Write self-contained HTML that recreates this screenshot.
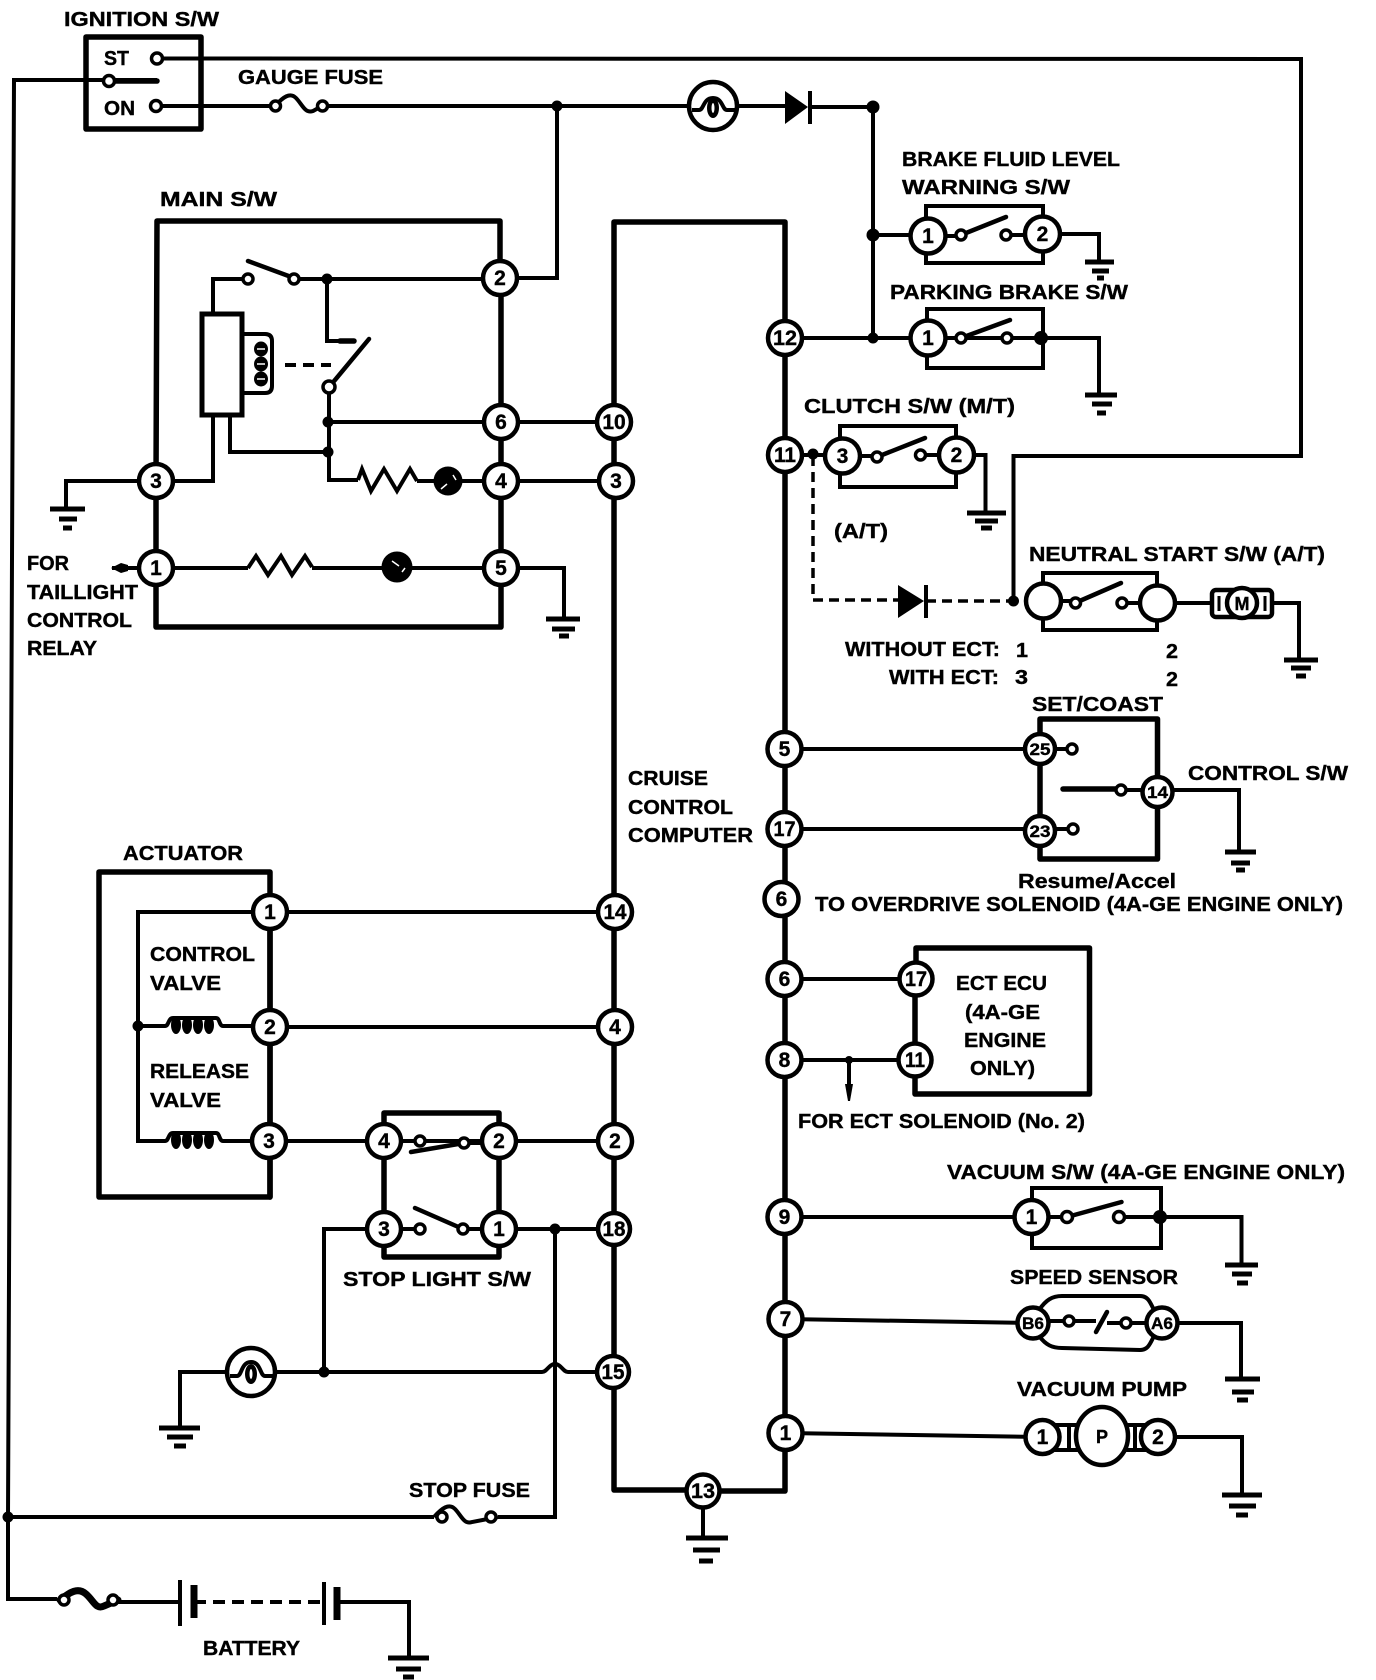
<!DOCTYPE html>
<html lang="en"><head><meta charset="utf-8"><title>Cruise control wiring diagram</title>
<style>
html,body{margin:0;padding:0;background:#fff}
svg{display:block}
text{font-family:"Liberation Sans",sans-serif;font-weight:700;fill:#000;stroke:#000;stroke-width:.4}
.t{font-size:20px}
.n{font-size:21px;text-anchor:middle}
.s{font-size:17px;text-anchor:middle}
.w{fill:none;stroke:#000;stroke-width:4;stroke-linejoin:miter}
.b{fill:none;stroke:#000;stroke-width:5.5;stroke-linejoin:round;stroke-linecap:round}
.g{fill:none;stroke:#000;stroke-width:5}
.c{fill:#fff;stroke:#000;stroke-width:4.5}
.p{fill:#fff;stroke:#000;stroke-width:3.5}
.k{fill:#000;stroke:none}
.sw{fill:none;stroke:#000;stroke-width:4.5;stroke-linecap:round}
</style></head><body>
<svg width="1376" height="1680" viewBox="0 0 1376 1680" xmlns="http://www.w3.org/2000/svg">
<rect width="1376" height="1680" fill="#fff"/>

<!-- thick boxes -->
<path class="b" d="M86 37H201V129H86Z"/>
<path class="b" d="M156 481L157 221H500V278M501 278V568M156 481V627H501V568"/>
<path class="b" d="M614 1490V222H785V1491H703M614 1490H703"/>
<path class="b" d="M99 872H270V1197H99Z"/>
<path class="w" d="M270 912H138V1141H165M138 1026H165"/>
<path class="b" d="M270 912V1197"/>
<path class="b" d="M384 1141V1113H499V1141M384 1141V1229M499 1141V1229M384 1229V1257H499V1229"/>
<path class="b" d="M1040 749V719H1157.5V859H1040V749"/>
<path class="b" d="M916 979V948H1089.5V1094H915V979"/>

<!-- wires -->
<path class="w" d="M157 58.5L1301 59V456H1013.5V601"/>
<path class="w" d="M157 80H14L8 1517V1599H57"/>
<path class="w" d="M157 106H275M322 106H690M736 106H785M810 107H873V338M557 106V278H500"/>
<path class="b" d="M109 81H157"/>
<path class="w" d="M248 279H213V314M294 279H500M327 279V341H352"/>
<path class="b" d="M340 341H354"/>
<path class="w" d="M329 387V480H358M329 422H614M329 452H230V415M213 415V481H156M417 481H616"/>
<path class="w" d="M156 481H66V509M156 568H248M312 568H501H564V619M112 568H156"/>
<path class="w" d="M242 334H265Q272 334 272 341V386Q272 393 265 393H242"/>
<path class="w" d="M785 338H1041M785 455H842"/>
<path class="w" d="M873 235H928M1042 234H1099V262"/>
<path class="w" d="M1007 338H1099V395"/>
<path class="w" d="M956 455H985.5V513"/>
<path class="w" d="M1175 603H1212M1272 603H1299V660"/>
<path class="w" d="M785 749H1040M785 829H1040"/>
<path class="w" d="M1157 790H1239V852"/>
<path class="w" d="M785 979H916M785 1060H915M849 1060V1092"/>
<path class="w" d="M785 1217H1031M1119 1217H1160H1241.5V1265"/>
<path class="w" d="M785 1319L1033 1323M1162 1323H1241V1379"/>
<path class="w" d="M785 1433L1042 1437M1158 1437H1242V1495"/>
<path class="w" d="M703 1491V1538"/>
<path class="w" d="M270 912H615M270 1027H615M269 1141H615M499 1229H614"/>
<path class="w" d="M384 1229H324V1372M180 1428V1372H227M275 1372H542C547 1372 549 1364 555 1364S563 1372 568 1372H613"/>
<path class="w" d="M555 1229V1517H498M434 1517H8"/>
<path class="w" d="M118 1602H180M337 1602H409V1658"/>
<path class="w" stroke-dasharray="12 7" d="M194 1602H322"/>
<path class="w" style="stroke-width:3.5" stroke-dasharray="10 6" d="M813 456V600H898M926 601H1013"/>
<path class="w" stroke-dasharray="11 7" d="M285 365H331"/>

<!-- fuses -->
<path class="w" d="M275 106C283 97 290 92 296 98S305 114 313 111L322 106"/>
<circle class="p" cx="275.5" cy="106" r="5"/><circle class="p" cx="322.5" cy="106" r="5"/>
<path class="w" d="M434 1517C442 1508 449 1503 455 1509S464 1525 472 1522L498 1517"/>
<circle class="p" cx="442" cy="1517" r="5"/><circle class="p" cx="491" cy="1517" r="5"/>
<path class="b" style="stroke-width:7" d="M60 1600C70 1592 78 1587 86 1594S96 1610 104 1606L118 1600"/>
<circle class="p" cx="64" cy="1600" r="5"/><circle class="p" cx="113" cy="1600" r="5"/>

<!-- gauges -->
<circle class="c" cx="713" cy="106" r="24"/>
<path class="w" d="M692 110H699C704 110 703 98 713 98S722 110 727 110H735"/>
<ellipse class="k" cx="713" cy="108" rx="6" ry="10"/><ellipse cx="713" cy="108" rx="1.5" ry="5" fill="#fff"/>
<circle class="c" cx="251" cy="1372" r="24"/>
<path class="w" d="M230 1376H237C242 1376 241 1362 251 1362S260 1376 265 1376H273"/>
<ellipse class="k" cx="251" cy="1374" rx="6" ry="10"/><ellipse cx="251" cy="1374" rx="1.5" ry="5" fill="#fff"/>

<!-- diodes -->
<polygon class="k" points="785,91 808,107 785,124"/><path class="w" d="M810 91V124"/>
<polygon class="k" points="898,585 924,601 898,618"/><path class="w" d="M926 585V618"/>

<!-- relay coil and main switch -->
<rect x="202" y="314" width="40" height="101" fill="#fff" stroke="#000" stroke-width="5"/>
<ellipse class="k" cx="261" cy="349" rx="7" ry="7.5"/><ellipse class="k" cx="261" cy="364" rx="7" ry="7.5"/><ellipse class="k" cx="261" cy="379" rx="7" ry="7.5"/>
<path d="M257 349H265M257 364H265M257 379H265" stroke="#fff" stroke-width="1.5"/>
<path class="sw" d="M248 261L294 278M369 339L330 386"/>
<circle class="p" cx="248" cy="279" r="5"/><circle class="p" cx="294" cy="279" r="5"/><circle class="p" cx="329" cy="387" r="6"/>

<!-- resistors and lamps -->
<polyline class="w" points="358,480 362,469 371,491 384,469 397,491 410,469 417,481"/>
<polyline class="w" points="248,568 256,556 268,575 281,556 292,575 305,556 312,567"/>
<circle class="k" cx="448" cy="481" r="14.5"/><circle class="k" cx="397" cy="567" r="15.5"/>
<path d="M441 489L447 484M453 475L456 480M392 561L399 566M402 572L405 568" stroke="#fff" stroke-width="1.5"/>

<!-- actuator coils -->
<path class="w" d="M165 1026C169 1026 168 1018 173 1018H216C220 1018 219 1026 223 1026H252"/>
<ellipse class="k" cx="176" cy="1025" rx="5" ry="9"/><ellipse class="k" cx="187" cy="1025" rx="5" ry="9"/><ellipse class="k" cx="198" cy="1025" rx="5" ry="9"/><ellipse class="k" cx="209" cy="1025" rx="5" ry="9"/>
<path class="w" d="M165 1141C169 1141 168 1133 173 1133H216C220 1133 219 1141 223 1141H252"/>
<ellipse class="k" cx="176" cy="1140" rx="5" ry="9"/><ellipse class="k" cx="187" cy="1140" rx="5" ry="9"/><ellipse class="k" cx="198" cy="1140" rx="5" ry="9"/><ellipse class="k" cx="209" cy="1140" rx="5" ry="9"/>

<!-- stop light switch -->
<path class="sw" d="M411 1152L464 1143M415 1208L463 1229"/>
<path class="w" d="M384 1141H420M464 1143H499M384 1229H420M463 1229H499"/>
<circle class="p" cx="420" cy="1141" r="5"/><circle class="p" cx="464" cy="1143" r="5"/><circle class="p" cx="420" cy="1229" r="5"/><circle class="p" cx="463" cy="1229" r="5"/>

<!-- brake fluid switch -->
<path class="w" d="M926 206H1043V263H926Z"/>
<path class="w" d="M928 236H961M1006 235H1042"/>
<path class="sw" d="M961 235L1006 217"/>
<circle class="p" cx="961" cy="235" r="5"/><circle class="p" cx="1006" cy="235" r="5"/>

<!-- parking switch -->
<path class="w" d="M927 309H1043V368H927Z"/>
<path class="w" d="M928 338H961"/>
<path class="sw" d="M961 338L1010 320"/>
<circle class="p" cx="961" cy="338" r="5"/><circle class="p" cx="1007" cy="338" r="5"/>

<!-- clutch switch -->
<path class="w" d="M840 426H956V487H840Z"/>
<path class="w" d="M842 456H877M920 455H956"/>
<path class="sw" d="M877 457L925 438"/>
<circle class="p" cx="877" cy="457" r="5"/><circle class="p" cx="920.5" cy="455" r="5"/>

<!-- neutral start switch -->
<path class="w" d="M1043 573H1157V630H1043Z"/>
<path class="w" d="M1043 601H1075M1122 603H1157"/>
<path class="sw" d="M1075 603L1121 583"/>
<circle class="p" cx="1075.5" cy="603" r="5"/><circle class="p" cx="1122" cy="603" r="5"/>
<circle class="c" cx="1043.5" cy="601" r="17.5"/><circle class="c" cx="1157.5" cy="603" r="17.5"/>

<!-- motor -->
<rect x="1212" y="590" width="60" height="27" rx="4" fill="#fff" stroke="#000" stroke-width="4.5"/>
<path class="w" style="stroke-width:3" d="M1219 596V611M1265 596V611"/>
<circle class="c" cx="1242" cy="603" r="15"/>

<!-- control switch -->
<path class="w" d="M1040 749H1072M1040 829H1073M1121 790H1157"/>
<path class="b" d="M1063 789H1121"/>
<circle class="p" cx="1072" cy="749" r="5"/><circle class="p" cx="1073" cy="829" r="5"/><circle class="p" cx="1121" cy="790" r="5"/>

<!-- vacuum switch -->
<path class="w" d="M1032 1188H1161V1248H1032Z"/>
<path class="w" d="M1031 1217H1067"/>
<path class="sw" d="M1067 1217L1121.5 1202"/>
<circle class="p" cx="1067" cy="1217" r="5.5"/><circle class="p" cx="1119" cy="1217" r="5.5"/>

<!-- speed sensor -->
<path class="w" d="M1039 1310C1046 1300 1052 1296 1062 1296H1140C1148 1296 1150 1302 1154 1310M1039 1336C1046 1345 1052 1348 1062 1348L1140 1350C1148 1350 1150 1344 1154 1336"/>
<path class="w" d="M1033 1321H1096M1107 1323H1162"/>
<path class="sw" d="M1096 1332L1107 1312"/>
<circle class="p" cx="1069" cy="1321" r="5"/><circle class="p" cx="1126" cy="1323" r="5"/>

<!-- vacuum pump -->
<rect x="1042" y="1425" width="116" height="25" fill="#fff" stroke="#000" stroke-width="4"/>
<path class="w" d="M1069 1425V1450M1135 1425V1450"/>
<ellipse class="c" cx="1102" cy="1436" rx="26" ry="29"/>

<!-- battery -->
<path class="w" d="M180 1580V1626M324 1582V1625"/>
<path class="g" style="stroke-width:7" d="M194 1585V1618M337 1587V1620"/>

<!-- grounds -->
<path class="g" d="M50 509H85M59 519H77M63 528H72"/>
<path class="g" d="M546 619H580M552 629H575M559 636H569"/>
<path class="g" d="M1085 262H1114M1092 271H1109M1097 278H1104"/>
<path class="g" d="M1085 395H1117M1092 404H1112M1097 413H1106"/>
<path class="g" d="M967 513H1006M975 521H998M981 528H992"/>
<path class="g" d="M1284 660H1318M1291 668H1311M1296 676H1306"/>
<path class="g" d="M1225 852H1256M1231 863H1250M1236 870H1245"/>
<path class="g" d="M1225 1265H1258M1232 1274H1252M1237 1283H1248"/>
<path class="g" d="M1225 1379H1260M1232 1392H1254M1237 1400H1248"/>
<path class="g" d="M1222 1495H1262M1229 1506H1256M1236 1515H1248"/>
<path class="g" d="M686 1538H728M693 1550H720M699 1561H713"/>
<path class="g" d="M159 1428H200M167 1437H193M174 1446H186"/>
<path class="g" d="M388 1658H429M396 1669H421M403 1677H414"/>

<!-- arrowheads -->
<polygon class="k" points="111,568 121,563 128,565 128,571 121,573"/>
<polygon class="k" points="845,1084 853,1084 850,1101 848,1101"/>

<!-- junction dots -->
<g class="k">
<circle cx="557" cy="106" r="5.5"/><circle cx="873" cy="107" r="6.5"/><circle cx="873" cy="235" r="6.5"/><circle cx="873" cy="338" r="5.5"/>
<circle cx="327" cy="279" r="5.5"/><circle cx="328" cy="422" r="5.5"/><circle cx="328" cy="452" r="5.5"/>
<circle cx="1041" cy="338" r="7"/><circle cx="813" cy="454" r="5.5"/><circle cx="1013.5" cy="601" r="5.5"/>
<circle cx="1160" cy="1217" r="7"/><circle cx="138" cy="1026" r="5.5"/><circle cx="324" cy="1372" r="5.5"/>
<circle cx="555" cy="1229" r="5.5"/><circle cx="8" cy="1517" r="5.5"/><circle cx="849" cy="1060" r="4"/>
</g>
<circle class="p" cx="157" cy="58.5" r="5.5"/><circle class="p" cx="156" cy="106" r="5.5"/><circle class="p" cx="109" cy="81" r="5.5"/>

<!-- numbered connectors -->
<g class="c">
<circle cx="500" cy="278" r="17"/><circle cx="501" cy="422" r="17"/><circle cx="501" cy="481" r="17"/><circle cx="501" cy="568" r="17"/>
<circle cx="156" cy="481" r="17"/><circle cx="156" cy="568" r="17"/>
<circle cx="614" cy="422" r="17"/><circle cx="616" cy="481" r="17"/>
<circle cx="785" cy="338" r="17"/><circle cx="785" cy="455" r="17"/>
<circle cx="928" cy="236" r="17.5"/><circle cx="1042.5" cy="234" r="17.5"/><circle cx="928" cy="338" r="17.5"/>
<circle cx="842.5" cy="456" r="17.5"/><circle cx="956.5" cy="455" r="17.5"/>
<circle cx="784.5" cy="749" r="17"/><circle cx="784.5" cy="829" r="17"/><circle cx="781.5" cy="899" r="17"/><circle cx="784.5" cy="979" r="17"/><circle cx="784.5" cy="1060" r="17"/>
<circle cx="784.5" cy="1217" r="17"/><circle cx="785.5" cy="1319" r="17"/><circle cx="785.5" cy="1433" r="17"/>
<circle cx="1040" cy="749" r="15"/><circle cx="1040" cy="831" r="15"/><circle cx="1157.5" cy="792" r="15"/>
<circle cx="916" cy="979" r="16.5"/><circle cx="915" cy="1060" r="16.5"/>
<circle cx="1031.5" cy="1217" r="17"/><circle cx="1033" cy="1323" r="15.5"/><circle cx="1162" cy="1323" r="15.5"/>
<circle cx="1042.5" cy="1437" r="17"/><circle cx="1158" cy="1437" r="17"/>
<circle cx="703" cy="1491" r="16.5"/>
<circle cx="270" cy="912" r="17"/><circle cx="270" cy="1027" r="17"/><circle cx="269" cy="1141" r="17"/>
<circle cx="615" cy="912" r="17"/><circle cx="615" cy="1027" r="17"/><circle cx="615" cy="1141" r="17"/><circle cx="614" cy="1229" r="16"/><circle cx="613" cy="1372" r="16"/>
<circle cx="384" cy="1141" r="17"/><circle cx="499" cy="1141" r="17"/><circle cx="384" cy="1229" r="17"/><circle cx="499" cy="1229" r="17"/>
</g>
<g>
<text x="500" y="285" class="n">2</text><text x="501" y="429" class="n">6</text><text x="501" y="488" class="n">4</text><text x="501" y="575" class="n">5</text>
<text x="156" y="488" class="n">3</text><text x="156" y="575" class="n">1</text>
<text x="614" y="429" class="n">10</text><text x="616" y="488" class="n">3</text>
<text x="785" y="345" class="n" textLength="24" lengthAdjust="spacingAndGlyphs">12</text><text x="785" y="462" class="n" textLength="22" lengthAdjust="spacingAndGlyphs">11</text>
<text x="928" y="243" class="n">1</text><text x="1042.5" y="241" class="n">2</text><text x="928" y="345" class="n">1</text>
<text x="842.5" y="463" class="n">3</text><text x="956.5" y="462" class="n">2</text>
<text x="784.5" y="756" class="n">5</text><text x="784.5" y="836" class="n" textLength="22" lengthAdjust="spacingAndGlyphs">17</text><text x="781.5" y="906" class="n">6</text><text x="784.5" y="986" class="n">6</text><text x="784.5" y="1067" class="n">8</text>
<text x="784.5" y="1224" class="n">9</text><text x="785.5" y="1326" class="n">7</text><text x="785.5" y="1440" class="n">1</text>
<text x="1040" y="755" class="s" textLength="21" lengthAdjust="spacingAndGlyphs">25</text><text x="1040" y="837" class="s" textLength="21" lengthAdjust="spacingAndGlyphs">23</text><text x="1157.5" y="798" class="s" textLength="21" lengthAdjust="spacingAndGlyphs">14</text>
<text x="916" y="986" class="n" textLength="22" lengthAdjust="spacingAndGlyphs">17</text><text x="915" y="1067" class="n" textLength="20" lengthAdjust="spacingAndGlyphs">11</text>
<text x="1031.5" y="1224" class="n">1</text><text x="1033" y="1329" class="s" textLength="22" lengthAdjust="spacingAndGlyphs">B6</text><text x="1162" y="1329" class="s" textLength="22" lengthAdjust="spacingAndGlyphs">A6</text>
<text x="1042.5" y="1444" class="n">1</text><text x="1158" y="1444" class="n">2</text><text x="1102" y="1443" class="n" style="font-size:18px">P</text>
<text x="1242" y="610" class="n" style="font-size:18px">M</text>
<text x="703" y="1498" class="n" textLength="24" lengthAdjust="spacingAndGlyphs">13</text>
<text x="270" y="919" class="n">1</text><text x="270" y="1034" class="n">2</text><text x="269" y="1148" class="n">3</text>
<text x="615" y="919" class="n" textLength="23" lengthAdjust="spacingAndGlyphs">14</text><text x="615" y="1034" class="n">4</text><text x="615" y="1148" class="n">2</text><text x="614" y="1236" class="n" textLength="23" lengthAdjust="spacingAndGlyphs">18</text><text x="613" y="1379" class="n" textLength="23" lengthAdjust="spacingAndGlyphs">15</text>
<text x="384" y="1148" class="n">4</text><text x="499" y="1148" class="n">2</text><text x="384" y="1236" class="n">3</text><text x="499" y="1236" class="n">1</text>
</g>

<!-- labels -->
<g>
<text class="t" x="64" y="26" textLength="155" lengthAdjust="spacingAndGlyphs">IGNITION S/W</text>
<text class="t" x="104" y="65" textLength="25" lengthAdjust="spacingAndGlyphs">ST</text>
<text class="t" x="104" y="115" textLength="31" lengthAdjust="spacingAndGlyphs">ON</text>
<text class="t" x="238" y="84" textLength="145" lengthAdjust="spacingAndGlyphs">GAUGE FUSE</text>
<text class="t" x="160" y="206" textLength="117" lengthAdjust="spacingAndGlyphs">MAIN S/W</text>
<text class="t" x="27" y="570" textLength="42" lengthAdjust="spacingAndGlyphs">FOR</text>
<text class="t" x="27" y="599" textLength="111" lengthAdjust="spacingAndGlyphs">TAILLIGHT</text>
<text class="t" x="27" y="627" textLength="105" lengthAdjust="spacingAndGlyphs">CONTROL</text>
<text class="t" x="27" y="655" textLength="70" lengthAdjust="spacingAndGlyphs">RELAY</text>
<text class="t" x="902" y="166" textLength="218" lengthAdjust="spacingAndGlyphs">BRAKE FLUID LEVEL</text>
<text class="t" x="902" y="194" textLength="168" lengthAdjust="spacingAndGlyphs">WARNING S/W</text>
<text class="t" x="890" y="299" textLength="238" lengthAdjust="spacingAndGlyphs">PARKING BRAKE S/W</text>
<text class="t" x="804" y="413" textLength="211" lengthAdjust="spacingAndGlyphs">CLUTCH S/W (M/T)</text>
<text class="t" x="834" y="538" textLength="54" lengthAdjust="spacingAndGlyphs">(A/T)</text>
<text class="t" x="1029" y="561" textLength="296" lengthAdjust="spacingAndGlyphs">NEUTRAL START S/W (A/T)</text>
<text class="t" x="845" y="656" textLength="155" lengthAdjust="spacingAndGlyphs">WITHOUT ECT:</text>
<text class="t" x="889" y="684" textLength="110" lengthAdjust="spacingAndGlyphs">WITH ECT:</text>
<text class="t" x="1016" y="657" textLength="12" lengthAdjust="spacingAndGlyphs">1</text>
<text class="t" x="1015" y="684" textLength="13" lengthAdjust="spacingAndGlyphs">3</text>
<text class="t" x="1166" y="658" textLength="12" lengthAdjust="spacingAndGlyphs">2</text>
<text class="t" x="1166" y="686" textLength="12" lengthAdjust="spacingAndGlyphs">2</text>
<text class="t" x="1032" y="711" textLength="131" lengthAdjust="spacingAndGlyphs">SET/COAST</text>
<text class="t" x="1188" y="780" textLength="160" lengthAdjust="spacingAndGlyphs">CONTROL S/W</text>
<text class="t" x="628" y="785" textLength="80" lengthAdjust="spacingAndGlyphs">CRUISE</text>
<text class="t" x="628" y="814" textLength="105" lengthAdjust="spacingAndGlyphs">CONTROL</text>
<text class="t" x="628" y="842" textLength="125" lengthAdjust="spacingAndGlyphs">COMPUTER</text>
<text class="t" x="1018" y="888" textLength="158" lengthAdjust="spacingAndGlyphs">Resume/Accel</text>
<text class="t" x="815" y="911" textLength="528" lengthAdjust="spacingAndGlyphs">TO OVERDRIVE SOLENOID (4A-GE ENGINE ONLY)</text>
<text class="t" x="956" y="990" textLength="91" lengthAdjust="spacingAndGlyphs">ECT ECU</text>
<text class="t" x="965" y="1019" textLength="75" lengthAdjust="spacingAndGlyphs">(4A-GE</text>
<text class="t" x="964" y="1047" textLength="82" lengthAdjust="spacingAndGlyphs">ENGINE</text>
<text class="t" x="970" y="1075" textLength="65" lengthAdjust="spacingAndGlyphs">ONLY)</text>
<text class="t" x="798" y="1128" textLength="287" lengthAdjust="spacingAndGlyphs">FOR ECT SOLENOID (No. 2)</text>
<text class="t" x="947" y="1179" textLength="398" lengthAdjust="spacingAndGlyphs">VACUUM S/W (4A-GE ENGINE ONLY)</text>
<text class="t" x="1010" y="1284" textLength="168" lengthAdjust="spacingAndGlyphs">SPEED SENSOR</text>
<text class="t" x="1017" y="1396" textLength="170" lengthAdjust="spacingAndGlyphs">VACUUM PUMP</text>
<text class="t" x="123" y="860" textLength="120" lengthAdjust="spacingAndGlyphs">ACTUATOR</text>
<text class="t" x="150" y="961" textLength="105" lengthAdjust="spacingAndGlyphs">CONTROL</text>
<text class="t" x="150" y="990" textLength="71" lengthAdjust="spacingAndGlyphs">VALVE</text>
<text class="t" x="150" y="1078" textLength="99" lengthAdjust="spacingAndGlyphs">RELEASE</text>
<text class="t" x="150" y="1107" textLength="71" lengthAdjust="spacingAndGlyphs">VALVE</text>
<text class="t" x="343" y="1286" textLength="188" lengthAdjust="spacingAndGlyphs">STOP LIGHT S/W</text>
<text class="t" x="409" y="1497" textLength="121" lengthAdjust="spacingAndGlyphs">STOP FUSE</text>
<text class="t" x="203" y="1655" textLength="97" lengthAdjust="spacingAndGlyphs">BATTERY</text>
</g>
</svg>
</body></html>
